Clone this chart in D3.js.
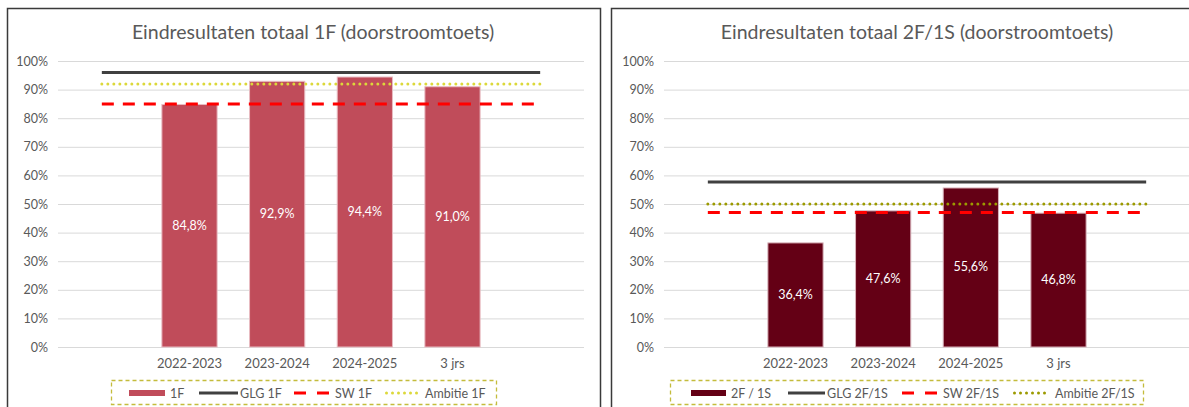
<!DOCTYPE html>
<html>
<head>
<meta charset="utf-8">
<title>Eindresultaten doorstroomtoets</title>
<script src="https://cdnjs.cloudflare.com/ajax/libs/d3/7.8.5/d3.min.js"></script>
<style>
  body { margin: 0; background: #fff; }
  svg { display: block; font-family: Lato, "Open Sans", sans-serif; }
</style>
</head>
<body>
<script>
// categories (first and last are empty, like in the spreadsheet)
const categories = ["", "2022-2023", "2023-2024", "2024-2025", "3 jrs", ""];
const yTicks = [0, 0.1, 0.2, 0.3, 0.4, 0.5, 0.6, 0.7, 0.8, 0.9, 1.0];

// chart 1: 1F
const bars1F = [null, 0.848, 0.929, 0.944, 0.910, null];
const glg1F = [0.96, 0.96, 0.96, 0.96, 0.96, 0.96];
const sw1F = [0.85, 0.85, 0.85, 0.85, 0.85, 0.85];
const ambitie1F = [0.92, 0.92, 0.92, 0.92, 0.92, 0.92];

// chart 2: 2F / 1S
const bars2F = [null, 0.364, 0.476, 0.556, 0.468, null];
const glg2F = [0.577, 0.577, 0.577, 0.577, 0.577, 0.577];
const sw2F = [0.47, 0.47, 0.47, 0.47, 0.47, 0.47];
const ambitie2F = [0.50, 0.50, 0.50, 0.50, 0.50, 0.50];

const W = 1189, H = 407;
const svg = d3.select("body").append("svg").attr("width", W).attr("height", H);

const pct = d3.format(".0%");
const lbl = v => d3.format(".1f")(v * 100).replace(".", ",") + "%";

function drawChart(o) {
  const g = svg.append("g").attr("transform", `translate(${o.left},0)`);

  // panel frame
  g.append("rect")
    .attr("x", 0.5).attr("y", 8.5)
    .attr("width", o.frameW).attr("height", 420)
    .attr("fill", "#fff").attr("stroke", "#3a3a3a").attr("stroke-width", 1.5);

  g.append("text")
    .attr("x", 306).attr("y", 38.5)
    .attr("text-anchor", "middle")
    .attr("font-size", 19.5).attr("fill", "#595959")
    .text(o.title);

  const x = d3.scaleBand().domain(d3.range(categories.length)).range([o.plotL, o.plotL + 526]);
  const y = d3.scaleLinear().domain([0, 1]).range([347, 61]);

  // gridlines + y labels
  const ya = d3.axisLeft(y).tickValues(yTicks).tickFormat(pct).tickSize(-526).tickPadding(10);
  const yg = g.append("g").attr("transform", `translate(${o.plotL},0)`).call(ya);
  yg.select(".domain").remove();
  yg.selectAll(".tick line").attr("stroke", "#d9d9d9").attr("stroke-width", 1);
  yg.selectAll(".tick text").attr("fill", "#595959").attr("font-size", 12.5).attr("font-family", "Lato, sans-serif");

  // x labels
  const xa = d3.axisBottom(x).tickFormat(i => categories[i]).tickSize(0).tickPadding(12);
  const xg = g.append("g").attr("transform", "translate(0,347)").call(xa);
  xg.select(".domain").remove();
  xg.selectAll(".tick text").attr("fill", "#595959").attr("font-size", 13).attr("font-family", "Lato, sans-serif");

  // bars
  const bw = x.bandwidth() * 0.63;
  const barData = o.bars.map((v, i) => ({ i, v })).filter(d => d.v != null);
  g.selectAll(".bar").data(barData).enter().append("rect")
    .attr("x", d => x(d.i) + (x.bandwidth() - bw) / 2)
    .attr("y", d => y(d.v))
    .attr("width", bw)
    .attr("height", d => y(0) - y(d.v))
    .attr("fill", o.barColor)
    .attr("stroke", o.barStroke).attr("stroke-width", 1);

  g.selectAll(".blabel").data(barData).enter().append("text")
    .attr("x", d => x(d.i) + x.bandwidth() / 2)
    .attr("y", d => (y(d.v) + y(0)) / 2 + 4)
    .attr("text-anchor", "middle")
    .attr("fill", "#fff").attr("font-size", 12.5)
    .text(d => lbl(d.v));

  const line = d3.line().x((d, i) => x(i) + x.bandwidth() / 2).y(d => y(d));

  g.append("path").datum(o.ambitie).attr("d", line)
    .attr("fill", "none").attr("stroke", o.ambColor).attr("stroke-width", 3)
    .attr("stroke-linecap", "round").attr("stroke-dasharray", "0,6");
  g.append("path").datum(o.sw).attr("d", line)
    .attr("fill", "none").attr("stroke", "#ff0000").attr("stroke-width", 3)
    .attr("stroke-dasharray", "12,9");
  g.append("path").datum(o.glg).attr("d", line)
    .attr("fill", "none").attr("stroke", "#404040").attr("stroke-width", 3);

  // legend
  const L = o.legend;
  g.append("rect")
    .attr("x", L.box[0] + 0.5).attr("y", 380.5)
    .attr("width", L.box[1] - L.box[0]).attr("height", 24)
    .attr("fill", "none").attr("stroke", "#c4bc3c").attr("stroke-width", 1.3)
    .attr("stroke-dasharray", "4,3");
  const ly = 393;
  g.append("rect").attr("x", L.sw[0]).attr("y", ly - 3).attr("width", L.sw[1] - L.sw[0]).attr("height", 6)
    .attr("fill", o.barColor);
  g.append("line").attr("x1", L.glg[0]).attr("x2", L.glg[1]).attr("y1", ly).attr("y2", ly)
    .attr("stroke", "#404040").attr("stroke-width", 3);
  g.append("line").attr("x1", L.sw2[0]).attr("x2", L.sw2[1]).attr("y1", ly).attr("y2", ly)
    .attr("stroke", "#ff0000").attr("stroke-width", 3).attr("stroke-dasharray", "12,11");
  g.append("line").attr("x1", L.amb[0] + 1.5).attr("x2", L.amb[1]).attr("y1", ly).attr("y2", ly)
    .attr("stroke", o.ambColor).attr("stroke-width", 3)
    .attr("stroke-linecap", "round").attr("stroke-dasharray", "0,6");
  L.texts.forEach(t => {
    g.append("text").attr("x", t[0]).attr("y", ly + 4.5)
      .attr("fill", "#595959").attr("font-size", 12.5).text(t[1]);
  });
}

drawChart({
  left: 7, frameW: 593, plotL: 51,
  title: "Eindresultaten totaal 1F (doorstroomtoets)",
  bars: bars1F, glg: glg1F, sw: sw1F, ambitie: ambitie1F,
  barColor: "#c04c5a", barStroke: "#e8bcc2", ambColor: "#dcd83a",
  legend: {
    box: [104, 489],
    sw: [122, 158], glg: [192, 231], sw2: [287, 322], amb: [378, 413],
    texts: [[163, "1F"], [233, "GLG 1F"], [328, "SW 1F"], [418, "Ambitie 1F"]]
  }
});

drawChart({
  left: 611, frameW: 600, plotL: 53,
  title: "Eindresultaten totaal 2F/1S (doorstroomtoets)",
  bars: bars2F, glg: glg2F, sw: sw2F, ambitie: ambitie2F,
  barColor: "#640015", barStroke: "#d9b3bb", ambColor: "#9c9a00",
  legend: {
    box: [59, 532],
    sw: [80, 115], glg: [177, 214], sw2: [291, 326], amb: [402, 437],
    texts: [[120, "2F / 1S"], [216, "GLG 2F/1S"], [332, "SW 2F/1S"], [444, "Ambitie 2F/1S"]]
  }
});
</script>
</body>
</html>
